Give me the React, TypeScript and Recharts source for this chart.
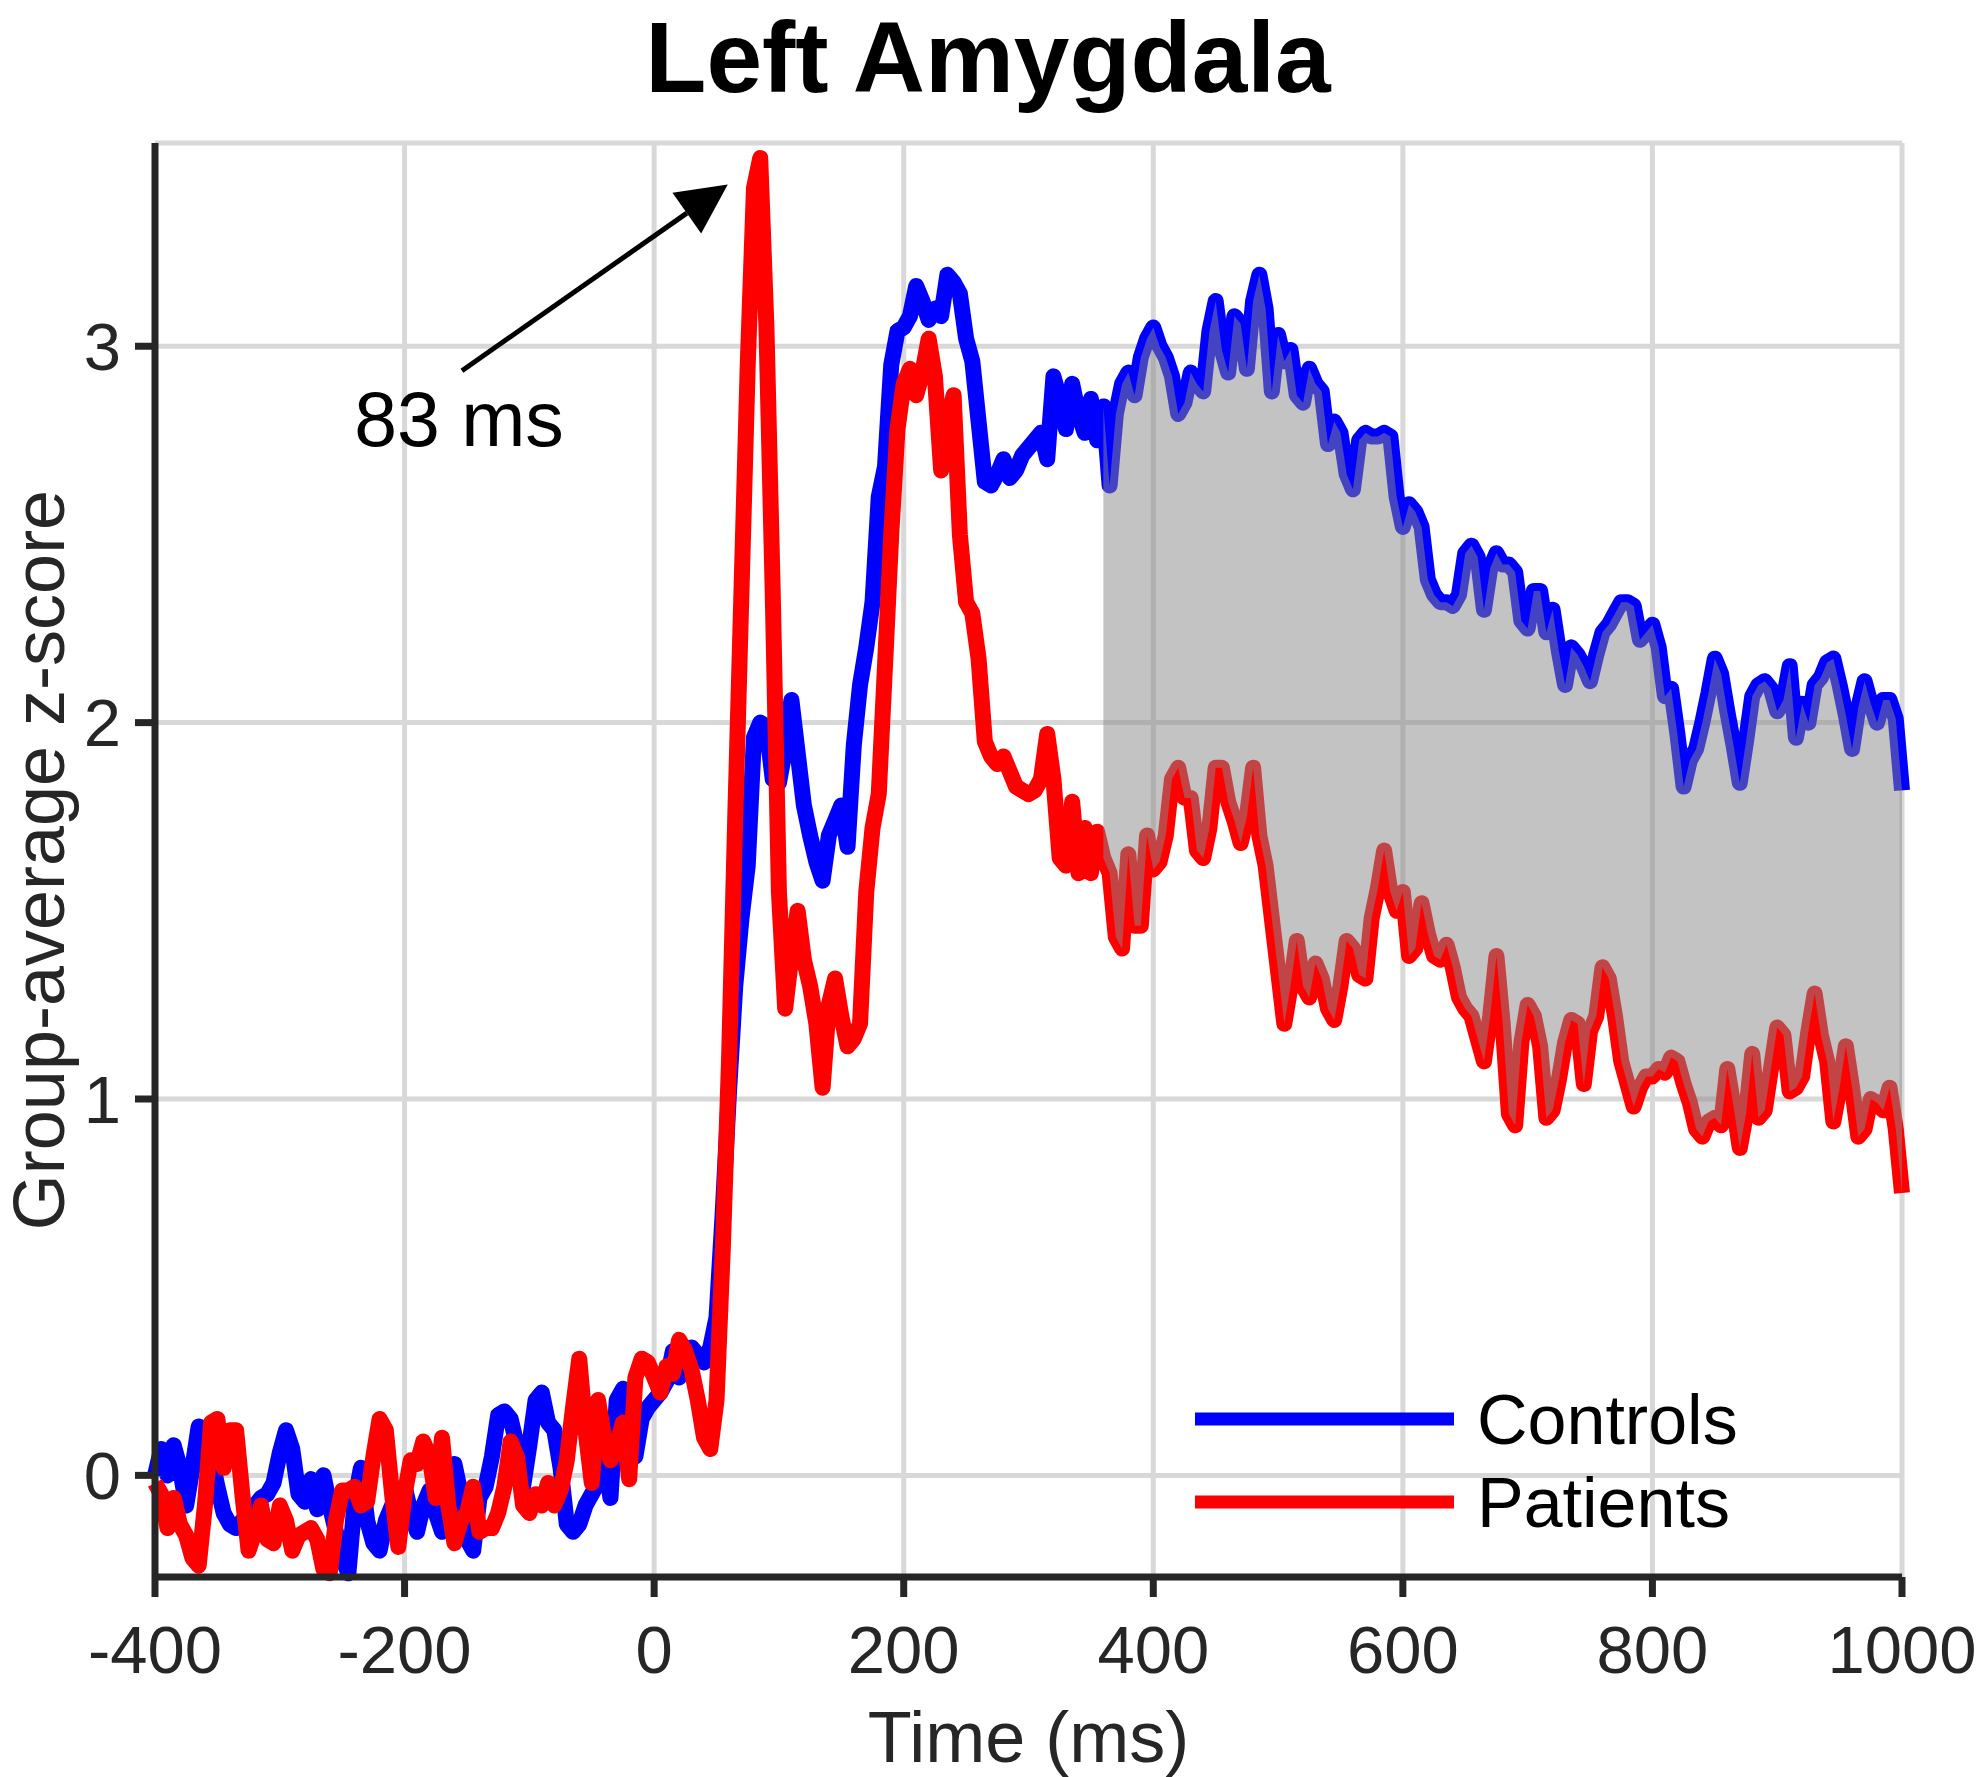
import React from "react"
import { ComposedChart, Line, Area, XAxis, YAxis, CartesianGrid, Legend, ReferenceLine } from "recharts"

const FONT = '"Liberation Sans", Arial, Helvetica, sans-serif'
const AXIS = "#262626"

const title = "Left Amygdala"
const xLabel = "Time (ms)"
const yLabel = "Group-average z-score"
const xTicks = [-400, -200, 0, 200, 400, 600, 800, 1000]
const yTicks = [0, 1, 2, 3]
const shadeStart = 360
const peakLabel = "83 ms"
const arrowFrom = { t: -154, z: 2.935 }
const arrowTo = { t: 59, z: 3.43 }

// group averages, one value every 5 ms from -400 to 1000
const controls = [
  0.0, 0.07, 0.0, 0.08, 0.02, -0.08, 0.02, 0.13, 0.12, 0.05, -0.03, -0.1, -0.13, -0.14, -0.12, -0.1, -0.08, -0.06, -0.05, -0.02,
  0.06, 0.12, 0.07, -0.05, -0.07, -0.01, -0.09, 0.0, -0.08, -0.15, -0.22, -0.26, -0.07, 0.02, -0.12, -0.18, -0.2, -0.12, -0.08, -0.05,
  -0.03, -0.1, -0.15, -0.08, -0.04, -0.1, -0.15, -0.05, 0.03, -0.05, -0.17, -0.2, -0.06, -0.03, 0.05, 0.16, 0.17, 0.15, 0.08, -0.03,
  0.08, 0.2, 0.22, 0.14, 0.12, 0.02, -0.13, -0.15, -0.13, -0.08, -0.05, -0.02, 0.05, -0.06, 0.2, 0.23, 0.08, 0.05, 0.15, 0.18,
  0.2, 0.22, 0.25, 0.33, 0.26, 0.3, 0.34, 0.32, 0.3, 0.34, 0.42, 0.7, 1.02, 1.3, 1.48, 1.62, 1.96, 2.0, 1.99, 1.85,
  1.84, 1.93, 2.06, 1.92, 1.78, 1.7, 1.63, 1.58, 1.7, 1.74, 1.78, 1.67, 1.94, 2.1, 2.2, 2.32, 2.6, 2.68, 2.95, 3.04,
  3.05, 3.08, 3.16, 3.12, 3.07, 3.1, 3.08, 3.19, 3.17, 3.14, 3.02, 2.96, 2.8, 2.64, 2.63, 2.66, 2.7, 2.65, 2.67, 2.71,
  2.73, 2.75, 2.77, 2.7, 2.92, 2.86, 2.78, 2.9, 2.82, 2.77, 2.86, 2.75, 2.84, 2.63, 2.82, 2.9, 2.93, 2.87, 2.97, 3.02,
  3.05, 3.0, 2.97, 2.92, 2.82, 2.85, 2.93, 2.9, 2.88, 3.04, 3.12, 2.99, 2.93, 3.08, 3.06, 2.94, 3.12, 3.19, 3.1, 2.88,
  3.03, 2.96, 2.99, 2.87, 2.85, 2.94, 2.9, 2.88, 2.74, 2.8, 2.77, 2.66, 2.62, 2.75, 2.77, 2.76, 2.76, 2.77, 2.76, 2.6,
  2.52, 2.58, 2.56, 2.52, 2.38, 2.34, 2.32, 2.32, 2.31, 2.34, 2.45, 2.47, 2.44, 2.3, 2.41, 2.45, 2.42, 2.42, 2.4, 2.27,
  2.25, 2.35, 2.35, 2.24, 2.3, 2.19, 2.1, 2.2, 2.18, 2.15, 2.11, 2.18, 2.24, 2.26, 2.29, 2.32, 2.32, 2.31, 2.22, 2.24,
  2.26, 2.2, 2.07, 2.09, 1.97, 1.83, 1.9, 1.93, 2.0, 2.08, 2.17, 2.13, 2.03, 1.94, 1.84, 1.95, 2.07, 2.1, 2.11, 2.09,
  2.03, 2.06, 2.15, 1.96, 2.05, 2.0, 2.1, 2.12, 2.16, 2.17, 2.1, 2.02, 1.93, 2.04, 2.11, 2.05, 2.0, 2.06, 2.06, 2.01,
  1.82,
]

const patients = [
  -0.02, -0.05, -0.14, -0.06, -0.13, -0.16, -0.22, -0.24, -0.08, 0.14, 0.15, 0.02, 0.12, 0.12, -0.05, -0.2, -0.15, -0.08, -0.17, -0.18,
  -0.08, -0.12, -0.2, -0.16, -0.15, -0.14, -0.17, -0.25, -0.26, -0.12, -0.04, -0.04, -0.03, -0.08, -0.07, 0.05, 0.15, 0.12, -0.05, -0.19,
  -0.05, 0.04, 0.03, 0.09, 0.05, -0.06, 0.1, -0.08, -0.18, -0.12, -0.1, -0.03, -0.15, -0.14, -0.14, -0.1, -0.03, 0.09, 0.05, -0.08,
  -0.1, -0.05, -0.08, -0.02, -0.08, -0.04, 0.04, 0.18, 0.31, 0.12, -0.02, 0.2, 0.1, 0.04, 0.08, 0.14, -0.01, 0.26, 0.31, 0.3,
  0.26, 0.22, 0.29, 0.27, 0.36, 0.33, 0.28, 0.2, 0.1, 0.07, 0.2, 0.6, 1.1, 1.75, 2.35, 2.95, 3.42, 3.5, 3.05, 2.35,
  1.55, 1.24, 1.38, 1.5, 1.37, 1.3, 1.2, 1.03, 1.25, 1.32, 1.22, 1.14, 1.16, 1.2, 1.55, 1.72, 1.81, 2.15, 2.5, 2.78,
  2.9, 2.94, 2.87, 2.93, 3.02, 2.92, 2.67, 2.8, 2.87, 2.5, 2.32, 2.29, 2.17, 1.95, 1.91, 1.89, 1.91, 1.87, 1.83, 1.82,
  1.81, 1.82, 1.85, 1.97, 1.85, 1.64, 1.62, 1.79, 1.6, 1.72, 1.6, 1.71, 1.64, 1.6, 1.43, 1.4, 1.65, 1.46, 1.46, 1.7,
  1.61, 1.63, 1.7, 1.85, 1.88, 1.8, 1.8, 1.66, 1.64, 1.72, 1.88, 1.88, 1.79, 1.74, 1.68, 1.75, 1.88, 1.7, 1.62, 1.48,
  1.34, 1.2, 1.3, 1.42, 1.3, 1.27, 1.36, 1.32, 1.24, 1.21, 1.3, 1.42, 1.4, 1.33, 1.32, 1.48, 1.56, 1.66, 1.55, 1.5,
  1.55, 1.38, 1.4, 1.52, 1.44, 1.38, 1.37, 1.41, 1.35, 1.27, 1.24, 1.22, 1.16, 1.1, 1.22, 1.38, 1.2, 0.96, 0.93, 1.15,
  1.25, 1.22, 1.14, 0.95, 0.97, 1.05, 1.15, 1.21, 1.2, 1.04, 1.18, 1.22, 1.35, 1.32, 1.22, 1.1, 1.04, 0.98, 1.03, 1.06,
  1.06, 1.08, 1.07, 1.11, 1.1, 1.04, 0.99, 0.92, 0.9, 0.94, 0.95, 0.93, 1.08, 0.98, 0.87, 0.96, 1.12, 0.95, 0.97, 1.08,
  1.19, 1.17, 1.02, 1.03, 1.06, 1.18, 1.28, 1.17, 1.1, 0.94, 1.03, 1.14, 1.03, 0.9, 0.92, 1.0, 0.99, 0.97, 1.03, 0.92,
  0.75,
]

const times = controls.map((_, i) => -400 + i * 5)

const data = times.map((t, i) => ({
  t,
  controls: controls[i],
  patients: patients[i],
  band: t >= shadeStart ? [patients[i], controls[i]] : null,
}))

function PeakArrow(props: any) {
  const { x1, y1, x2, y2 } = props
  const len = Math.hypot(x2 - x1, y2 - y1)
  const ux = (x2 - x1) / len
  const uy = (y2 - y1) / len
  const head = 50
  const half = 25
  const bx = x2 - ux * head
  const by = y2 - uy * head
  const pts = `${x2},${y2} ${bx - uy * half},${by + ux * half} ${bx + uy * half},${by - ux * half}`
  return (
    <g>
      <line x1={x1} y1={y1} x2={bx} y2={by} stroke="#000" strokeWidth={5} />
      <polygon points={pts} fill="#000" />
      <text x={x1 - 3} y={y1 + 75} textAnchor="middle" fontSize={77} fontFamily={FONT} fill="#000">
        {peakLabel}
      </text>
    </g>
  )
}

function LegendBox({ payload }: any) {
  const items = (payload || []).filter((p: any) => p.type !== "none")
  return (
    <svg width={640} height={180}>
      {items.map((p: any, i: number) => (
        <g key={p.value} transform={`translate(0, ${49 + i * 83})`}>
          <line x1={15} x2={274} y1={0} y2={0} stroke={p.color} strokeWidth={13} />
          <text x={297} y={0} dy="0.35em" fontSize={70} fontFamily={FONT} fill="#000">
            {p.value}
          </text>
        </g>
      ))}
    </svg>
  )
}

export default function App() {
  return (
    <div style={{ position: "absolute", left: 0, top: 0, width: 1983, height: 1777, background: "#fff" }}>
      <ComposedChart width={1983} height={1777} data={data} margin={{ top: 143, right: 81, bottom: 0, left: 0 }}>
        <CartesianGrid stroke="#d8d8d8" strokeWidth={5} />
        <XAxis
          type="number"
          dataKey="t"
          domain={[-400, 1000]}
          ticks={xTicks}
          interval={0}
          height={200}
          tickSize={20}
          tickMargin={28}
          axisLine={{ stroke: AXIS, strokeWidth: 7 }}
          tickLine={{ stroke: AXIS, strokeWidth: 7 }}
          tick={{ fontSize: 67, fill: AXIS, fontFamily: FONT }}
          label={{ value: xLabel, position: "insideBottom", offset: 15, fontSize: 72, fill: AXIS, fontFamily: FONT }}
        />
        <YAxis
          type="number"
          domain={[-0.27, 3.54]}
          ticks={yTicks}
          interval={0}
          width={155}
          tickSize={20}
          tickMargin={14}
          axisLine={{ stroke: AXIS, strokeWidth: 7 }}
          tickLine={{ stroke: AXIS, strokeWidth: 7 }}
          tick={{ fontSize: 67, fill: AXIS, fontFamily: FONT }}
          label={{
            value: yLabel,
            angle: -90,
            position: "insideLeft",
            offset: 38,
            fontSize: 72,
            fill: AXIS,
            fontFamily: FONT,
            style: { textAnchor: "middle" },
          }}
        />
        <Line
          type="linear"
          dataKey="controls"
          name="Controls"
          stroke="#0000ff"
          strokeWidth={16}
          strokeLinejoin="round"
          dot={false}
          activeDot={false}
          isAnimationActive={false}
        />
        <Line
          type="linear"
          dataKey="patients"
          name="Patients"
          stroke="#ff0000"
          strokeWidth={16}
          strokeLinejoin="round"
          dot={false}
          activeDot={false}
          isAnimationActive={false}
        />
        <Area
          type="linear"
          dataKey="band"
          stroke="none"
          fill="#888888"
          fillOpacity={0.5}
          legendType="none"
          zIndex={450}
          dot={false}
          activeDot={false}
          isAnimationActive={false}
        />
        <ReferenceLine
          segment={[
            { x: arrowFrom.t, y: arrowFrom.z },
            { x: arrowTo.t, y: arrowTo.z },
          ]}
          ifOverflow="visible"
          shape={PeakArrow}
        />
        <Legend
          layout="horizontal"
          verticalAlign="middle"
          align="center"
          content={LegendBox}
          wrapperStyle={{ left: 1180, top: 1370, width: 640, height: 180 }}
        />
      </ComposedChart>
      <svg
        width={1983}
        height={200}
        style={{ position: "absolute", left: 0, top: 0, pointerEvents: "none" }}
      >
        <text x={988} y={92} textAnchor="middle" fontSize={100} fontWeight="bold" fontFamily={FONT} fill="#000">
          {title}
        </text>
      </svg>
    </div>
  )
}
